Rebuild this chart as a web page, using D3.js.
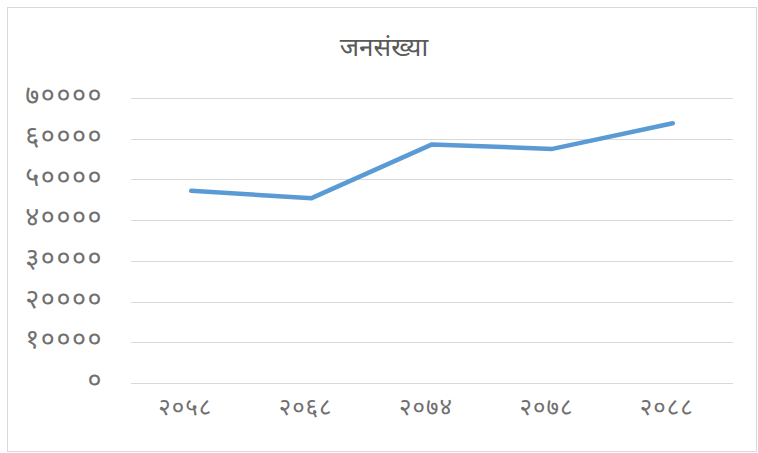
<!DOCTYPE html>
<html>
<head>
<meta charset="utf-8">
<script src="https://cdn.jsdelivr.net/npm/d3@7"></script>
<style>
  body { margin: 0; background: #fff; }
  text { font-family: "Noto Sans Devanagari", "Noto Sans", sans-serif; }
</style>
</head>
<body>
<script>
// data
var years = ["२०५८", "२०६८", "२०७४", "२०७८", "२०८८"]
var population = [47200, 45400, 58600, 57500, 63800]
var yTicks = [0, 10000, 20000, 30000, 40000, 50000, 60000, 70000]
var title = "जनसंख्या"

var devDigits = "०१२३४५६७८९"
function toDev(n) {
  return String(n).replace(/[0-9]/g, function(c) { return devDigits[+c]; })
}

var width = 758, height = 453
var margin = {left: 131, right: 25, top: 98, bottom: 70}

var svg = d3.select("body").append("svg")
    .attr("width", width)
    .attr("height", height)

svg.append("rect")
    .attr("x", 7.5).attr("y", 7.5)
    .attr("width", 749).attr("height", 444)
    .attr("fill", "#fff")
    .attr("stroke", "#d9d9d9")

var x = d3.scaleBand()
    .domain(years)
    .range([margin.left, width - margin.right])

var y = d3.scaleLinear()
    .domain([0, 70000])
    .range([383, margin.top])

// gridlines
svg.append("g").selectAll("line")
    .data(yTicks)
    .enter().append("line")
    .attr("x1", margin.left).attr("x2", width - margin.right)
    .attr("y1", function(d) { return Math.round(y(d)) + 0.5; })
    .attr("y2", function(d) { return Math.round(y(d)) + 0.5; })
    .attr("stroke", "#d9d9d9")
    .attr("stroke-width", 1)

// y axis labels
var yAxis = d3.axisLeft(y)
    .tickValues(yTicks)
    .tickSize(0)
    .tickPadding(0)
    .tickFormat(toDev)

var gy = svg.append("g")
    .attr("transform", "translate(103,-3)")
    .call(yAxis)
gy.select(".domain").remove()
gy.selectAll("text")
    .attr("fill", "#707070")
    .style("font-size", "27px")
    .style("letter-spacing", "1.5px")

// x axis labels
var xAxis = d3.axisBottom(x).tickSize(0).tickPadding(0)
var gx = svg.append("g")
    .attr("transform", "translate(-6,398)")
    .call(xAxis)
gx.select(".domain").remove()
gx.selectAll("text")
    .attr("fill", "#707070")
    .style("font-size", "24px")
    .style("letter-spacing", "1px")

// line
var line = d3.line()
    .x(function(d, i) { return x(years[i]) + x.bandwidth() / 2; })
    .y(function(d) { return y(d); })

svg.append("path")
    .datum(population)
    .attr("d", line)
    .attr("fill", "none")
    .attr("stroke", "#5b9bd5")
    .attr("stroke-width", 4.5)
    .attr("stroke-linecap", "round")
    .attr("stroke-linejoin", "round")

svg.append("text")
    .attr("x", 384)
    .attr("y", 56)
    .attr("text-anchor", "middle")
    .attr("fill", "#595959")
    .style("font-size", "26px")
    .text(title)
</script>
</body>
</html>
